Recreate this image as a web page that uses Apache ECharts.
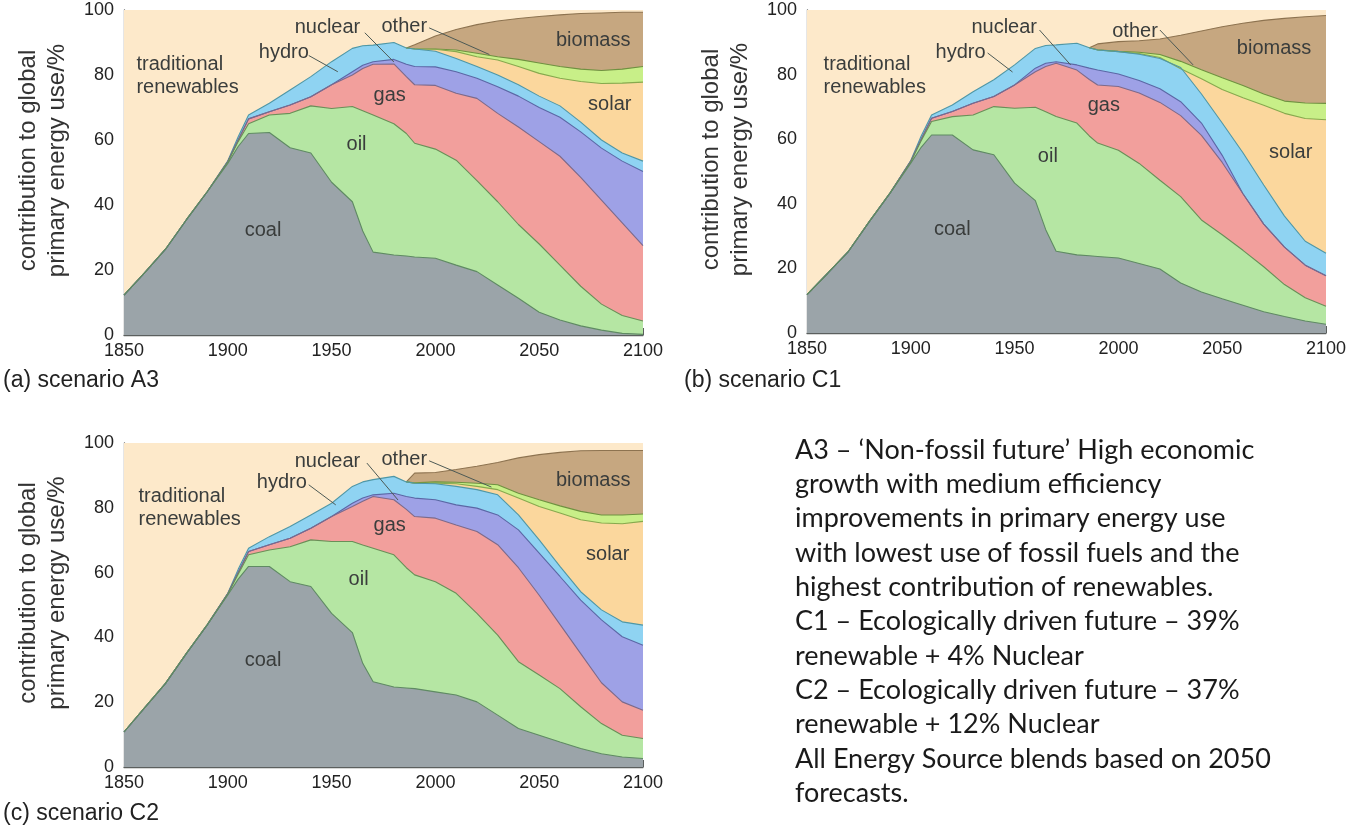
<!DOCTYPE html>
<html>
<head>
<meta charset="utf-8">
<title>Primary energy scenarios</title>
<script src="https://cdn.jsdelivr.net/npm/echarts@6/dist/echarts.min.js"></script>
<style>
  html, body { margin: 0; padding: 0; background: #fff; }
  #main { width: 1354px; height: 829px; }
</style>
</head>
<body>
<div id="main"></div>
<script>
// sample years shared by every boundary line
const years = [1850, 1860, 1870, 1880, 1890, 1900, 1905, 1910, 1920, 1930, 1940, 1950, 1960,
  1965, 1970, 1980, 1986, 1990, 2000, 2010, 2020, 2030, 2040, 2050, 2060, 2070, 2080, 2090, 2100]
const N = null

// cumulative top of each layer, % of global primary energy use
// (a) scenario A3
const coalA = [12.3, 19.2, 26.4, 35.4, 44, 52.8, 58, 62, 62.3, 57.6, 56, 47, 41, 32, 25.5, 24.6, 24.3, 24, 23.6, 21.5, 19.5, 15.4, 11.3, 7, 4.6, 2.8, 1.5, 0.5, 0.2]
const oilA = [12.3, 19.2, 26.4, 35.4, 44, 53.2, 59.5, 65, 67.7, 68.2, 70.5, 69.7, 70.3, 69, 67.7, 65, 62, 59, 57.2, 53.8, 47.5, 41, 34, 28, 21.5, 15, 9.5, 6, 4.3]
const gasA = [12.3, 19.2, 26.4, 35.4, 44, 53.4, 60, 66.5, 68.7, 70.8, 73.3, 77, 80, 82, 83.3, 83.4, 79.5, 77, 76.8, 74.4, 72.8, 68.2, 64, 59.5, 55, 48.5, 41.5, 34.5, 27.5]
const nuclearA = [12.3, 19.2, 26.4, 35.4, 44, 53.4, 60, 66.5, 68.7, 70.8, 73.3, 77, 81, 83, 84.1, 84.8, 83.3, 82.6, 82.5, 81, 79, 76.4, 73.5, 70, 67, 62.5, 57.5, 53.5, 50.3]
const hydroA = [12.3, 19.2, 26.4, 35.4, 44, 53.6, 61, 67.7, 71.3, 75.4, 79.5, 84.1, 88.2, 89, 89.2, 90, 88.3, 88, 87.3, 85.1, 82.6, 80, 77, 73.5, 70.5, 65.5, 60, 56, 53.5]
const solarA = [N, N, N, N, N, N, N, N, N, N, N, N, N, N, N, N, 88.3, 88, 87.9, 87.2, 85.6, 84.6, 82.6, 80.5, 79, 78, 77.4, 77.5, 77.8]
const otherA = [N, N, N, N, N, N, N, N, N, N, N, N, N, N, N, N, 88.3, 88.1, 88, 87.7, 86.7, 85.6, 84.8, 83.7, 82.6, 81.8, 81.4, 81.8, 82.6]
const biomassA = [N, N, N, N, N, N, N, N, N, N, N, N, N, N, N, N, 88.3, 89.3, 92, 94, 95.5, 96.6, 97.4, 98, 98.5, 98.9, 99.1, 99.3, 99.3]

// (b) scenario C1
const coalB = [11.9, 18.5, 25.3, 34.5, 43.3, 52.6, 57.5, 61.3, 61.3, 56.7, 55.2, 46.4, 41, 32, 25.3, 24.2, 23.9, 23.7, 23.2, 21.5, 19.8, 15.5, 12.7, 10.6, 8.6, 6.6, 5.1, 3.7, 2.7]
const oilB = [11.9, 18.5, 25.3, 34.5, 43.3, 53, 59.5, 65.5, 67, 67.5, 70.1, 69.6, 69.9, 68.5, 67, 65, 61, 58.8, 56.6, 52.5, 47.3, 42.2, 35, 30.4, 25.6, 20.5, 15, 10.9, 8.3]
const gasB = [11.9, 18.5, 25.3, 34.5, 43.3, 53.2, 60, 66.5, 68.6, 71.1, 73.2, 76.8, 80.9, 82.5, 83.5, 81.4, 78.5, 76.8, 76.3, 74.3, 71.4, 67.3, 61.2, 52.8, 43.1, 33.7, 26.6, 21, 17.7]
const nuclearB = [11.9, 18.5, 25.3, 34.5, 43.3, 53.2, 60, 66.5, 68.6, 71.1, 73.2, 76.8, 82, 83.5, 84, 83, 82, 81.4, 80.2, 78.2, 75.6, 71.6, 65, 55, 43.1, 33.7, 26.6, 21, 17.7]
const hydroB = [11.9, 18.5, 25.3, 34.5, 43.3, 53.4, 61, 67.5, 70.6, 74.7, 78.4, 83, 88.1, 89, 89.2, 89.7, 88.3, 87.6, 87.1, 86.3, 85, 82.2, 74, 65, 55.8, 45.8, 36.2, 28.4, 24.7]
const solarB = [N, N, N, N, N, N, N, N, N, N, N, N, N, N, N, N, 88.3, 87.6, 87.1, 86.5, 85.3, 81.8, 78.7, 75.4, 72.8, 70.5, 68, 66.4, 66]
const otherB = [N, N, N, N, N, N, N, N, N, N, N, N, N, N, N, N, 88.3, 87.7, 87.2, 86.9, 86.2, 84.1, 81.5, 79, 76.6, 74, 71.8, 71.2, 71.1]
const biomassB = [N, N, N, N, N, N, N, N, N, N, N, N, N, N, N, N, 88.3, 89.5, 90.2, 90.5, 91, 92.2, 93.5, 94.8, 95.9, 96.8, 97.4, 97.9, 98.3]

// (c) scenario C2
const coalC = [10.8, 18.3, 25.8, 35, 43.8, 53.1, 58, 61.9, 61.9, 57.2, 55.7, 47.4, 41.5, 32, 26.3, 24.7, 24.4, 24.2, 23.2, 22.2, 20.1, 16, 11.9, 9.8, 7.7, 5.7, 4.1, 3.1, 2.6]
const oilC = [10.8, 18.3, 25.8, 35, 43.8, 53.4, 59.5, 65.5, 67, 68, 70.1, 69.6, 69.6, 68.5, 67.5, 65.5, 61.5, 59.3, 57.2, 53.6, 47.4, 40.7, 32.5, 28.4, 24.2, 18.6, 13.4, 9.8, 8.8]
const gasC = [10.8, 18.3, 25.8, 35, 43.8, 53.5, 60, 66.5, 68.6, 70.6, 73.7, 77.3, 80.4, 82, 83.5, 82.5, 79.5, 77.3, 76.8, 74.7, 72.7, 68.6, 61.5, 53, 44, 35, 26, 20.1, 17.5]
const nuclearC = [10.8, 18.3, 25.8, 35, 43.8, 53.5, 60, 66.5, 68.6, 70.6, 73.7, 77.3, 81.4, 83, 84, 84.5, 83.5, 83, 82.5, 80.9, 79.9, 77.8, 73.2, 66, 58.8, 51.5, 45.4, 40.2, 37.6]
const hydroC = [10.8, 18.3, 25.8, 35, 43.8, 53.6, 61, 67.5, 71.1, 74.2, 77.8, 81.4, 86.6, 88, 88.7, 89.7, 88, 87.6, 87.4, 86.6, 85.6, 84, 77.8, 70.1, 61.9, 54.1, 48.5, 44.8, 43.8]
const solarC = [N, N, N, N, N, N, N, N, N, N, N, N, N, N, N, N, 88, 87.6, 87.6, 87.4, 86.6, 85.6, 83, 80.4, 78.4, 76.3, 75.3, 75.1, 75.8]
const otherC = [N, N, N, N, N, N, N, N, N, N, N, N, N, N, N, N, 88, 87.7, 88, 87.9, 87.6, 87.1, 84.5, 82.5, 80.6, 78.9, 77.8, 77.8, 78.1]
const biomassC = [N, N, N, N, N, N, N, N, N, N, N, N, N, N, N, N, 88, 90.7, 90.9, 91.8, 92.8, 94, 95.4, 96.4, 97.1, 97.6, 97.7, 97.7, 97.7]

// traditional renewables fill up to the full 100 %
const tradTop = years.map(() => 100)

const xTicks = [1850, 1900, 1950, 2000, 2050, 2100]
const yTicks = [0, 20, 40, 60, 80, 100]

const panelTitles = ['(a) scenario A3', '(b) scenario C1', '(c) scenario C2']
const noteLines = [
  'A3 \u2013 \u2018Non-fossil future\u2019 High economic',
  'growth with medium efficiency',
  'improvements in primary energy use',
  'with lowest use of fossil fuels and the',
  'highest contribution of renewables.',
  'C1 \u2013 Ecologically driven future \u2013 39%',
  'renewable + 4% Nuclear',
  'C2 \u2013 Ecologically driven future \u2013 37%',
  'renewable + 12% Nuclear',
  'All Energy Source blends based on 2050',
  'forecasts.'
]

// drawing order: upper boundaries first, each lower layer painted over it
const layers = ['traditional renewables', 'biomass', 'other', 'solar', 'hydro', 'nuclear', 'gas', 'oil', 'coal']
const fills = ['#fde9ca', '#c6a780', '#c8ef88', '#fbd79d', '#8fd3f2', '#9ea1e6', '#f29f9c', '#b5e6a3', '#9ba4a9']
const edges = ['rgba(0,0,0,0)', '#8d7350', '#6f9140', '#87a94e', '#4f97a6', '#5b67a5', '#7d6a8a', '#6a8f58', '#5f8a63']

const panels = [
  [tradTop, biomassA, otherA, solarA, hydroA, nuclearA, gasA, oilA, coalA],
  [tradTop, biomassB, otherB, solarB, hydroB, nuclearB, gasB, oilB, coalB],
  [tradTop, biomassC, otherC, solarC, hydroC, nuclearC, gasC, oilC, coalC],
]

// area annotations [text, year, %] per panel (layout only)
const labelSpots = [
  [['traditional\nrenewables', 1856, 79.8, 'left'], ['hydro', 1927, 86.8], ['nuclear', 1948, 94.5], ['other', 1985, 95],
    ['biomass', 2076, 90.5], ['gas', 1978, 73.8], ['solar', 2084, 71], ['oil', 1962, 58.5], ['coal', 1917, 32.3]],
  [['traditional\nrenewables', 1858, 79.6, 'left'], ['hydro', 1924, 87], ['nuclear', 1945, 94.7], ['other', 2008, 93.5],
    ['biomass', 2075, 88.2], ['gas', 1993, 70.3], ['solar', 2083, 56], ['oil', 1966, 54.8], ['coal', 1920, 31.9]],
  [['traditional\nrenewables', 1857, 79.9, 'left'], ['hydro', 1926, 87.7], ['nuclear', 1948, 94.4], ['other', 1985, 95],
    ['biomass', 2076, 88.3], ['gas', 1978, 74.4], ['solar', 2083, 65.7], ['oil', 1963, 58], ['coal', 1917, 33]],
]
const leaders = [
  [[[1939, 86], [1953, 81]], [[1966, 93], [1980, 84]], [[1997, 94.5], [2026, 86.3]]],
  [[[1937, 86.7], [1949, 80.8]], [[1962, 93.8], [1977, 83]], [[2020, 93.8], [2036, 83]]],
  [[[1939, 87.1], [1952, 80.9]], [[1967, 93.8], [1982, 82.4]], [[1997, 94.5], [2027, 86.4]]],
]

const grids = [
  { left: 124, top: 10, width: 519, height: 325 },
  { left: 807, top: 10, width: 519, height: 323 },
  { left: 124, top: 443, width: 519, height: 324 },
]

const axisFont = 'Liberation Sans'
const series = []
panels.forEach((tops, p) => {
  tops.forEach((vals, i) => {
    series.push({
      name: layers[i],
      type: 'line',
      xAxisIndex: p,
      yAxisIndex: p,
      data: years.map((y, k) => [y, vals[k]]),
      symbol: 'none',
      silent: true,
      connectNulls: false,
      lineStyle: { color: edges[i], width: i === 0 ? 0 : 1.1 },
      areaStyle: { color: fills[i], opacity: 1, origin: 'start' },
    })
  })
  leaders[p].forEach((seg) => {
    series.push({
      type: 'line',
      xAxisIndex: p,
      yAxisIndex: p,
      data: seg,
      symbol: 'none',
      silent: true,
      lineStyle: { color: '#4d5a55', width: 1 },
    })
  })
})

const titleFont = '23px "Liberation Sans"'
const baseGraphic = [
  { type: 'text', left: 3, top: 369, style: { text: panelTitles[0], font: titleFont, fill: '#222' } },
  { type: 'text', left: 684, top: 369, style: { text: panelTitles[1], font: titleFont, fill: '#222' } },
  { type: 'text', left: 3, top: 802, style: { text: panelTitles[2], font: titleFont, fill: '#222' } },
  {
    type: 'text',
    left: 795,
    top: 433,
    style: { text: noteLines.join('\n'), font: '27px Lato', lineHeight: 34.3, fill: '#1a1a1a' },
  },
]

const myChart = echarts.init(document.getElementById('main'), null, { renderer: 'canvas' })
const option = {
  animation: false,
  backgroundColor: '#ffffff',
  grid: grids,
  xAxis: grids.map((g, p) => ({
    type: 'value',
    gridIndex: p,
    min: xTicks[0],
    max: xTicks[xTicks.length - 1],
    interval: 50,
    axisLine: { show: true, lineStyle: { color: '#5b5f5e', width: 1.3 } },
    axisTick: { show: true, inside: true, length: 7, lineStyle: { color: '#5b5f5e' } },
    axisLabel: { margin: 7, fontFamily: axisFont, fontSize: 18, color: '#222', formatter: (v) => String(v) },
    splitLine: { show: false },
  })),
  yAxis: grids.map((g, p) => ({
    type: 'value',
    gridIndex: p,
    min: 0,
    max: 100,
    interval: 10,
    name: 'contribution to global\nprimary energy use/%',
    nameLocation: 'middle',
    nameGap: 52,
    nameTextStyle: { fontFamily: axisFont, fontSize: 24, lineHeight: 29, color: '#333', padding: [0, 0, 0, 24] },
    axisLine: { show: true, lineStyle: { color: '#5b5f5e', width: 1.3 } },
    axisTick: { show: true, inside: true, length: 7, lineStyle: { color: '#5b5f5e' } },
    axisLabel: {
      margin: 10,
      fontFamily: axisFont,
      fontSize: 18,
      color: '#222',
      formatter: (v) => (yTicks.indexOf(v) >= 0 ? String(v) : ''),
    },
    splitLine: { show: false },
  })),
  series: series,
  graphic: baseGraphic,
}
myChart.setOption(option)

// place the area names through the panel scales
const labelGraphic = []
labelSpots.forEach((spots, p) => {
  spots.forEach((s) => {
    const pt = myChart.convertToPixel({ gridIndex: p }, [s[1], s[2]])
    labelGraphic.push({
      type: 'text',
      x: pt[0],
      y: pt[1],
      z: 100,
      silent: true,
      style: {
        text: s[0],
        font: '20px "Liberation Sans"',
        lineHeight: 23,
        fill: '#3a3d3c',
        align: s[3] || 'center',
        verticalAlign: 'middle',
      },
    })
  })
})
myChart.setOption({ graphic: baseGraphic.concat(labelGraphic) })
</script>
</body>
</html>
